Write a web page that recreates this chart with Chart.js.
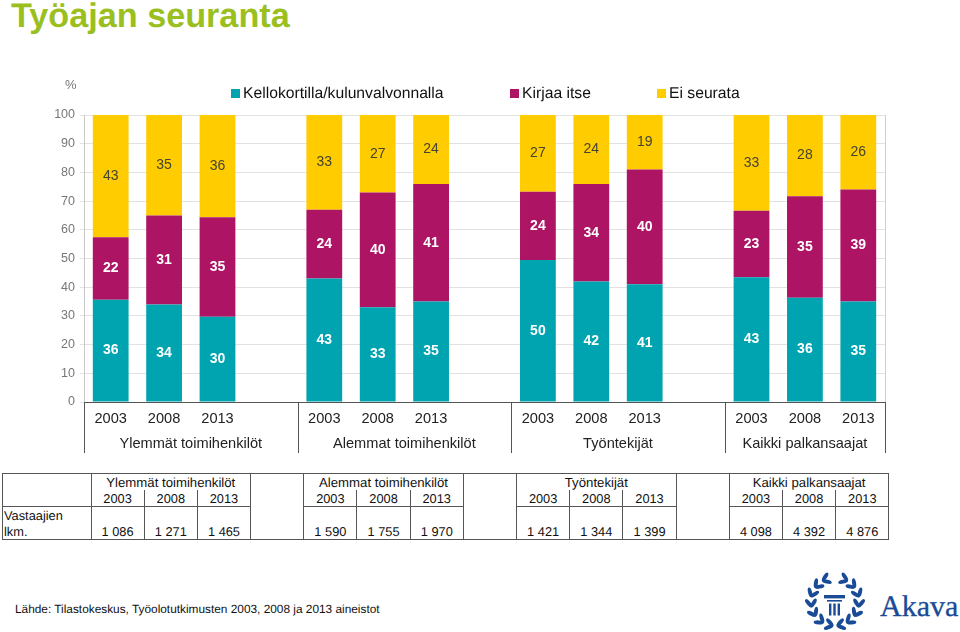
<!DOCTYPE html>
<html>
<head>
<meta charset="utf-8">
<script src="https://cdn.jsdelivr.net/npm/chart.js@4"></script>
<style>
  html, body { margin: 0; padding: 0; background: #fff; }
  body { width: 960px; height: 632px; position: relative; overflow: hidden; font-family: "Liberation Sans", Arial, sans-serif; text-rendering: geometricPrecision; }
  #title { position: absolute; left: 11px; top: -3px; font-size: 34.2px; font-weight: bold; color: #9bbf1f; }
  #chartBox { position: absolute; left: 0; top: 60px; width: 960px; height: 400px; }
  #unit { position: absolute; left: 65px; top: 77px; font-size: 13px; color: #777; }
  #legend { position: absolute; top: 85px; left: 231px; font-size: 15.7px; color: #111; white-space: nowrap; }
  #legend span.item { position: absolute; top: 0; }
  #legend i { position: absolute; left: 0; top: 4px; width: 9px; height: 9px; }
  #legend b { font-weight: normal; position: absolute; left: 12px; top: 0; }
  #counts { position: absolute; left: 2px; top: 473px; border-collapse: collapse; table-layout: fixed; width: 886.5px; font-size: 12.8px; color: #111; }
  #counts td { border: 1px solid #555; padding: 1px 0 0 0; box-sizing: border-box; text-align: center; height: 16.4px; line-height: 15px; overflow: hidden; white-space: nowrap; }
  #counts tr:first-child td { font-size: 13.2px; }
  #counts td.row { text-align: left; padding-left: 1px; }
  #counts td.top { border-bottom: none; }
  #counts td.mid { border-top: none; }
  #source { position: absolute; left: 15px; top: 602px; font-size: 11.85px; color: #111; }
  #logo { position: absolute; left: 800px; top: 568px; }
</style>
</head>
<body>
<div id="title">Työajan seuranta</div>
<div id="chartBox"><canvas id="chart"></canvas></div>
<div id="unit">%</div>
<div id="legend"></div>
<table id="counts"></table>
<div id="source">Lähde: Tilastokeskus, Työolotutkimusten 2003, 2008 ja 2013 aineistot</div>
<svg id="logo" width="160" height="64" viewBox="0 0 160 64">
  <g fill="#1a4b96" id="wreath"></g>
  <rect x="24" y="27" width="21" height="3.4" fill="#1a4b96"/>
  <rect x="27" y="32" width="15" height="1.6" fill="#1a4b96"/>
  <rect x="29" y="35.5" width="2.4" height="12" fill="#1a4b96"/>
  <rect x="33.3" y="35.5" width="2.4" height="12" fill="#1a4b96"/>
  <rect x="37.6" y="35.5" width="2.4" height="12" fill="#1a4b96"/>
  <text x="80" y="48" font-family="Liberation Serif" font-size="30" fill="#1a4b96" stroke="#1a4b96" stroke-width="0.3">Akava</text>
</svg>
<script>
const categories = ["2003", "2008", "2013", "", "2003", "2008", "2013", "", "2003", "2008", "2013", "", "2003", "2008", "2013"];
const groupLabels = ["Ylemmät toimihenkilöt", "Alemmat toimihenkilöt", "Työntekijät", "Kaikki palkansaajat"];
const clockValues = [36, 34, 30, null, 43, 33, 35, null, 50, 42, 41, null, 43, 36, 35];
const selfValues = [22, 31, 35, null, 24, 40, 41, null, 24, 34, 40, null, 23, 35, 39];
const noneValues = [43, 35, 36, null, 33, 27, 24, null, 27, 24, 19, null, 33, 28, 26];
const yearLabels = ["2003", "2008", "2013"];
const respondents = [
  ["1 086", "1 271", "1 465"],
  ["1 590", "1 755", "1 970"],
  ["1 421", "1 344", "1 399"],
  ["4 098", "4 392", "4 876"]
];
const seriesNames = ["Kellokortilla/kulunvalvonnalla", "Kirjaa itse", "Ei seurata"];
const seriesColors = ["#00a4b0", "#ad1464", "#ffcc00"];
const labelColors = ["#fff", "#fff", "#444433"];

const rawSeries = [clockValues, selfValues, noneValues];

// 100 % stacked like the original, labels still show the rounded figures
function toShare(values, index) {
  if (values[index] === null) return null;
  const sum = rawSeries.reduce((s, arr) => s + arr[index], 0);
  return values[index] / sum * 100;
}

const barLabels = {
  id: "barLabels",
  afterDatasetsDraw(chart) {
    const { ctx } = chart;
    ctx.save();
    ctx.textAlign = "center";
    ctx.textBaseline = "middle";
    chart.data.datasets.forEach((ds, i) => {
      ctx.font = (i < 2 ? "bold " : "") + '14px "Liberation Sans"';
      ctx.fillStyle = labelColors[i];
      chart.getDatasetMeta(i).data.forEach((bar, j) => {
        if (rawSeries[i][j] === null) return;
        ctx.fillText(String(rawSeries[i][j]), bar.x, (bar.y + bar.base) / 2);
      });
    });
    ctx.restore();
  }
};

const groupAxis = {
  id: "groupAxis",
  beforeDatasetsDraw(chart) {
    const { ctx, chartArea } = chart;
    ctx.save();
    ctx.strokeStyle = "#cfcfcf";
    ctx.lineWidth = 1;
    ctx.beginPath();
    ctx.moveTo(chartArea.right + 0.5, chartArea.top);
    ctx.lineTo(chartArea.right + 0.5, chartArea.bottom);
    ctx.stroke();
    ctx.restore();
  },
  afterDraw(chart) {
    const { ctx, scales: { x } } = chart;
    const slot = x.width / categories.length;
    const bottom = x.top + 51;
    const starts = [0, 4, 8, 12, 15];
    ctx.save();
    ctx.strokeStyle = "#555";
    ctx.lineWidth = 1;
    starts.forEach((s) => {
      const px = Math.round(x.left + s * slot) + 0.5;
      ctx.beginPath();
      ctx.moveTo(px, x.top);
      ctx.lineTo(px, bottom);
      ctx.stroke();
    });
    ctx.font = '14.6px "Liberation Sans"';
    ctx.fillStyle = "#222";
    ctx.textAlign = "center";
    ctx.textBaseline = "middle";
    groupLabels.forEach((label, i) => {
      ctx.fillText(label, x.left + (starts[i] + starts[i + 1]) / 2 * slot, x.top + 42);
    });
    ctx.restore();
  }
};

new Chart(document.getElementById("chart"), {
  type: "bar",
  data: {
    labels: categories,
    datasets: rawSeries.map((values, i) => ({
      label: seriesNames[i],
      data: values.map((v, j) => toShare(values, j)),
      backgroundColor: seriesColors[i],
      barPercentage: 1,
      categoryPercentage: 0.67
    }))
  },
  options: {
    responsive: true,
    maintainAspectRatio: false,
    animation: false,
    layout: { padding: { left: 50, right: 75, top: 55, bottom: 0 } },
    plugins: { legend: { display: false }, tooltip: { enabled: false } },
    scales: {
      x: {
        stacked: true,
        afterFit(axis) { axis.height = 58; },
        grid: { display: false, drawTicks: false },
        border: { color: "#555", width: 1 },
        ticks: { color: "#222", font: { size: 14.6, family: "Liberation Sans" }, padding: 8, maxRotation: 0, autoSkip: false }
      },
      y: {
        stacked: true,
        min: 0,
        max: 100,
        afterFit(axis) { axis.width = 34; },
        grid: { color: "#e2e2e2", tickLength: 4 },
        border: { color: "#c8c8c8" },
        ticks: { stepSize: 10, color: "#777", font: { size: 12.5, family: "Liberation Sans" }, padding: 5 }
      }
    }
  },
  plugins: [barLabels, groupAxis]
});

// legend
const legendLefts = [0, 279, 426];
document.getElementById("legend").innerHTML = seriesNames.map((name, i) =>
  `<span class="item" style="left:${legendLefts[i]}px"><i style="background:${seriesColors[i]}"></i><b>${name}</b></span>`
).join("");

// table under the chart
let cols = '<col style="width:88.5px">';
for (let c = 0; c < 15; c++) cols += '<col style="width:53.2px">';
let head1 = '<td class="top"></td>';
let head2 = '<td class="mid"></td>';
let body1 = '<td class="row top">Vastaajien</td>';
let body2 = '<td class="row mid">lkm.</td>';
groupLabels.forEach((label, i) => {
  head1 += `<td class="top" colspan="3">${label}</td>`;
  head2 += yearLabels.map((y) => `<td class="mid">${y}</td>`).join("");
  body1 += yearLabels.map(() => '<td class="top"></td>').join("");
  body2 += respondents[i].map((n) => `<td class="mid">${n}</td>`).join("");
  if (i < groupLabels.length - 1) head1 += '<td rowspan="4"></td>';
});
document.getElementById("counts").innerHTML =
  `<colgroup>${cols}</colgroup><tr>${head1}</tr><tr>${head2}</tr><tr>${body1}</tr><tr>${body2}</tr>`;

// laurel leaves of the logo, pairs along the ring with a gap at the top
let leaves = "";
[-68, -44, -20, 4, 28, 52, 76, 248, 224, 200, 176, 152, 128, 104].forEach((deg) => {
  const a = deg * Math.PI / 180;
  const side = Math.cos(a) < 0 ? -1 : 1;
  [[21.5, -side * 35], [26.5, side * 35]].forEach(([r, turn]) => {
    const cx = (35 + r * Math.cos(a)).toFixed(1);
    const cy = (33.5 + r * Math.sin(a)).toFixed(1);
    leaves += `<ellipse cx="${cx}" cy="${cy}" rx="5" ry="2" transform="rotate(${deg - side * 90 + turn} ${cx} ${cy})"/>`;
  });
});
document.getElementById("wreath").innerHTML = leaves;
</script>
</body>
</html>
